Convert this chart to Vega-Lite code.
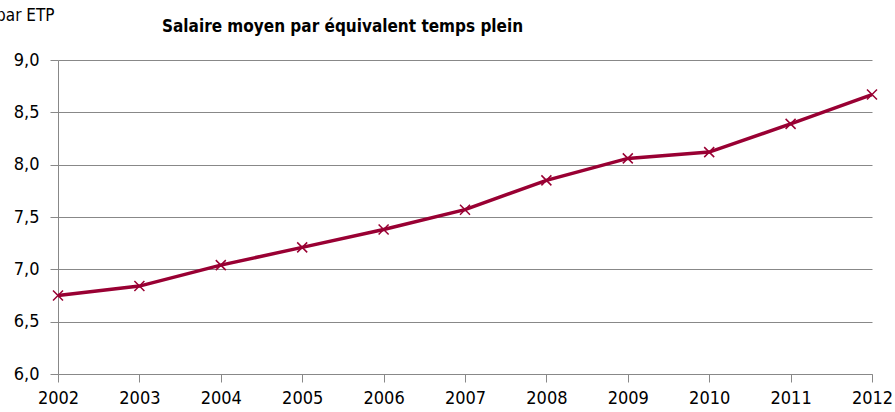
{
  "$schema": "https://vega.github.io/schema/vega-lite/v6.json",
  "width": 814,
  "height": 314,
  "autosize": {"type": "none"},
  "padding": {"left": 58, "top": 60, "right": 23, "bottom": 38},
  "background": "white",
  "title": {
    "text": "Salaire moyen par équivalent temps plein",
    "anchor": "start",
    "frame": "group",
    "dx": 104,
    "dy": 30,
    "font": "DejaVu Sans Condensed",
    "fontSize": 17,
    "fontWeight": "bold",
    "color": "#000000",
    "offset": 0
  },
  "data": {
    "values": [
      {"annee": 2002, "salaire": 6.75},
      {"annee": 2003, "salaire": 6.84},
      {"annee": 2004, "salaire": 7.04},
      {"annee": 2005, "salaire": 7.21},
      {"annee": 2006, "salaire": 7.38},
      {"annee": 2007, "salaire": 7.57},
      {"annee": 2008, "salaire": 7.85},
      {"annee": 2009, "salaire": 8.06},
      {"annee": 2010, "salaire": 8.12},
      {"annee": 2011, "salaire": 8.39},
      {"annee": 2012, "salaire": 8.67}
    ]
  },
  "encoding": {
    "x": {
      "field": "annee",
      "type": "quantitative",
      "scale": {"domain": [2002, 2012], "nice": false, "zero": false},
      "axis": {
        "title": null,
        "values": [2002, 2003, 2004, 2005, 2006, 2007, 2008, 2009, 2010, 2011, 2012],
        "format": "d",
        "grid": false,
        "domainColor": "#888888",
        "tickColor": "#888888",
        "tickSize": 8,
        "labelPadding": 7,
        "labelFont": "DejaVu Sans Condensed",
        "labelFontSize": 18,
        "labelColor": "#000000",
        "labelFlush": false,
        "labelOverlap": false
      }
    },
    "y": {
      "field": "salaire",
      "type": "quantitative",
      "scale": {"domain": [6, 9], "nice": false, "zero": false},
      "axis": {
        "values": [6, 6.5, 7, 7.5, 8, 8.5, 9],
        "labelExpr": "replace(format(datum.value, '.1f'), '.', ',')",
        "grid": true,
        "gridColor": "#888888",
        "gridWidth": 1,
        "domainColor": "#888888",
        "tickColor": "#888888",
        "tickSize": 8,
        "labelPadding": 11,
        "labelFont": "DejaVu Sans Condensed",
        "labelFontSize": 18,
        "labelColor": "#000000",
        "labelFlush": false,
        "title": "En milliers d'euros par ETP",
        "titleAngle": 0,
        "titleAlign": "right",
        "titleBaseline": "alphabetic",
        "titleX": -4,
        "titleY": -40,
        "titleFont": "DejaVu Sans Condensed",
        "titleFontSize": 17,
        "titleFontWeight": "normal",
        "titleColor": "#000000"
      }
    }
  },
  "layer": [
    {
      "mark": {"type": "line", "color": "#990033", "strokeWidth": 3.5}
    },
    {
      "mark": {
        "type": "point",
        "shape": "M-1,-1L1,1M-1,1L1,-1",
        "filled": false,
        "color": "#990033",
        "strokeWidth": 1.5,
        "size": 100,
        "opacity": 1
      }
    }
  ],
  "config": {"view": {"stroke": null}}
}
